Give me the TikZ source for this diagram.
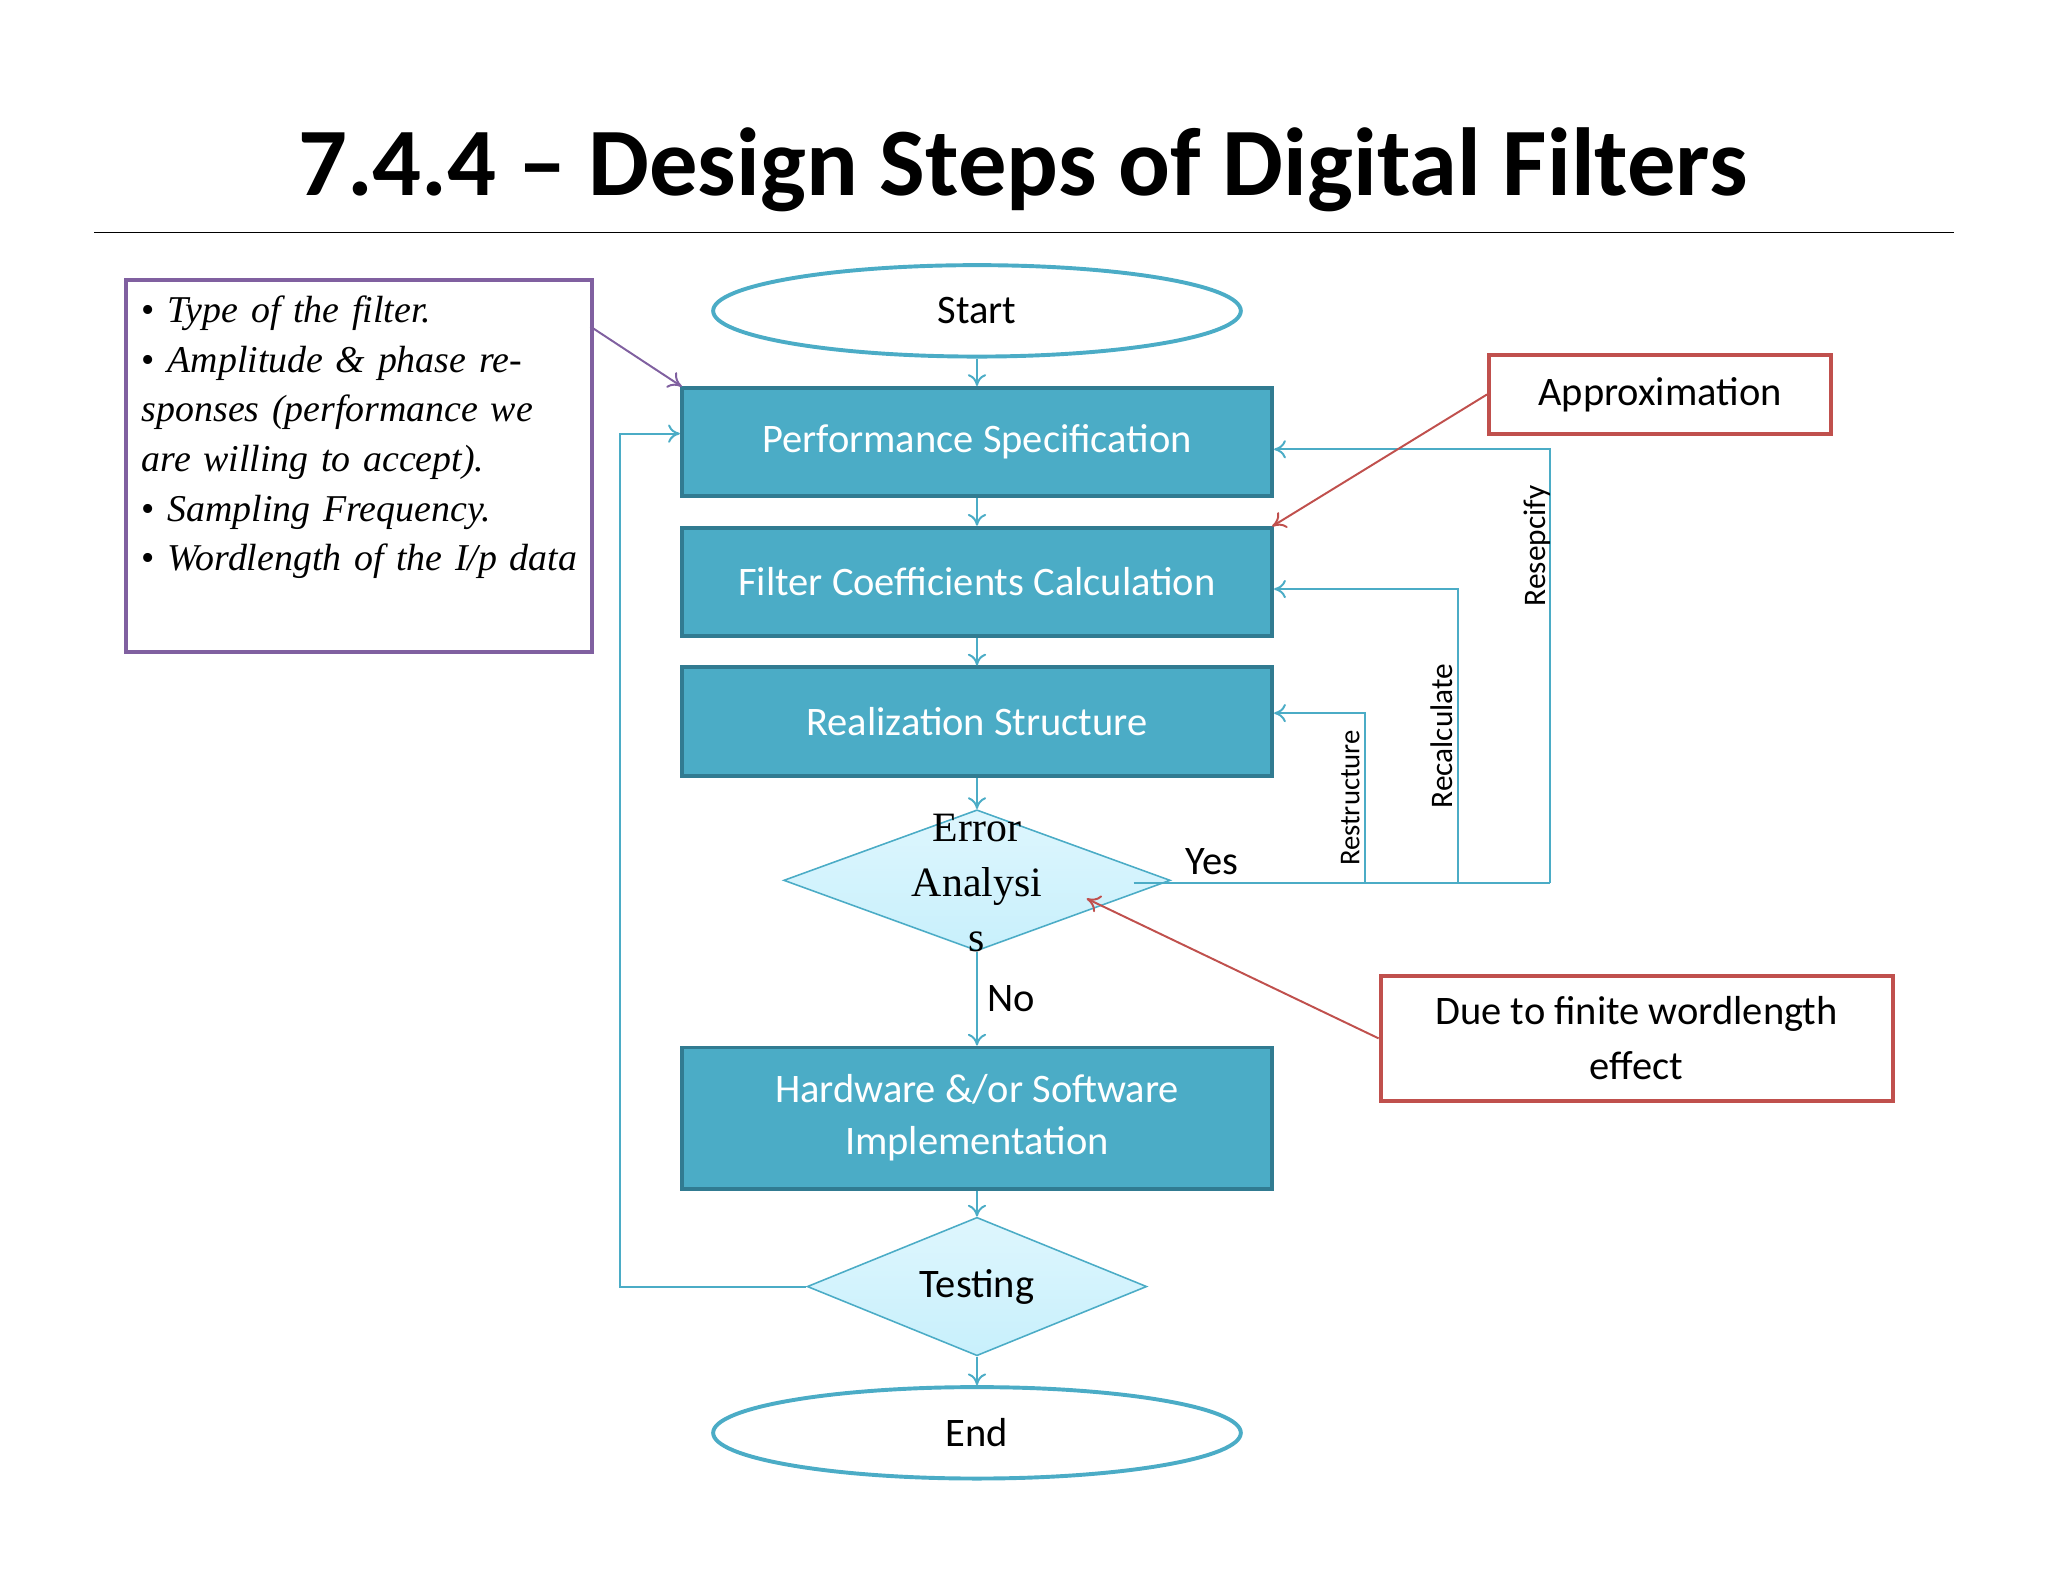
\documentclass[tikz,border=0pt]{standalone}
\usepackage{fontspec}
\setmainfont{Carlito}
\newfontfamily\serifit{Liberation Serif}
\usetikzlibrary{arrows.meta,shapes.geometric}
\definecolor{teal1}{RGB}{75,172,198}
\definecolor{tealdark}{RGB}{49,123,145}
\definecolor{redb}{RGB}{192,80,77}
\definecolor{purp}{RGB}{128,96,160}
\definecolor{cyanlt}{RGB}{200,240,252}
\begin{document}
\begin{tikzpicture}[x=1pt,y=-1pt,
  stepbox/.style={draw=tealdark,line width=3pt,fill=teal1,text=white,minimum width=452pt,font=\fontsize{31}{40}\selectfont,align=center},
  oval/.style={ellipse,draw=teal1,line width=3pt,fill=white,minimum width=404pt,minimum height=70pt,font=\fontsize{31}{38}\selectfont},
  dia/.style={diamond,draw=teal1,line width=1.2pt,top color=cyanlt!60!white,bottom color=cyanlt,aspect=2.74},
  flow/.style={draw=teal1,line width=1.5pt,-{To[length=9pt,width=14pt]}},
  note/.style={draw=redb,line width=3pt,fill=white,font=\fontsize{31}{42}\selectfont,align=center},
  redarr/.style={draw=redb,line width=1.5pt,-{To[length=10pt,width=14pt]}}]
\useasboundingbox (0,0) rectangle (1568,1212);
\node[font=\bfseries\fontsize{74}{80}\selectfont] (title) at (783,130) {7.4.4 – Design Steps of Digital Filters};
\draw[line width=1.5pt] (72,178) -- (1496,178);
% left box
\node[draw=purp,line width=3pt,minimum width=357pt,minimum height=285pt,anchor=north west,inner sep=0pt] (spec) at (95,213) {};
\node[anchor=north west,text width=335pt,font=\serifit\itshape\fontsize{29}{38}\selectfont,align=left] (spectext) at (105,223)
 {\textup{•} Type of the filter.\\ \textup{•} Amplitude \& phase responses (performance we are willing to accept).\\ \textup{•} Sampling Frequency.\\ \textup{•} Wordlength of the I/p data};
% flow
\node[oval] (start) at (748,238) {Start};
\node[stepbox,minimum height=83pt] (ps) at (748,338.5) {Performance Specification};
\node[stepbox,minimum height=83pt] (fc) at (748,445.5) {Filter Coefficients Calculation};
\node[stepbox,minimum height=83pt] (rs) at (748,552.5) {Realization Structure};
\node[dia,minimum width=296pt,minimum height=108pt] (ea) at (748,674) {};
\node[font=\serifit\fontsize{32}{42}\selectfont,align=center] (eat) at (748,676) {Error\\Analysi\\s};
\node[stepbox,minimum height=108pt] (hw) at (748,856) {Hardware \&/or Software\\Implementation};
\node[dia,minimum width=260pt,minimum height=106pt,font=\fontsize{31}{38}\selectfont] (te) at (748,985) {Testing};
\node[oval] (end) at (748,1097) {End};
\draw[flow] (start) -- (ps);
\draw[flow] (ps) -- (fc);
\draw[flow] (fc) -- (rs);
\draw[flow] (rs) -- (ea.north);
\draw[flow] (ea.south) -- node[right,font=\fontsize{31}{38}\selectfont,xshift=4pt] {No} (hw);
\draw[flow] (hw) -- (te.north);
\draw[flow] (te.south) -- (end);
% feedback
\coordinate (y0) at (868,676);
\coordinate (c1) at (1045,676);
\coordinate (c2) at (1116,676);
\coordinate (c3) at (1187,676);
\draw[draw=teal1,line width=1.5pt] (y0) -- (c3);
\node[font=\fontsize{31}{38}\selectfont] (yes) at (928,660) {Yes};
\draw[flow] (c1) -- node[left,rotate=90,anchor=south,font=\fontsize{22}{26}\selectfont,yshift=0pt] {Restructure} (1045,546) -- (rs.east |- 0,546);
\draw[flow] (c2) -- node[rotate=90,anchor=south,font=\fontsize{24}{28}\selectfont] {Recalculate} (1116,451) -- (fc.east |- 0,451);
\draw[flow] (c3) -- (1187,344) -- (ps.east |- 0,344);
\node[rotate=90,font=\fontsize{24}{28}\selectfont] (resp) at (1177,418) {Resepcify};
\draw[flow] (te.west) -- (475,985) -- (475,332) -- (ps.west |- 0,332);
% notes
\node[note,minimum width=262pt,minimum height=60pt] (approx) at (1271,302) {Approximation};
\node[note,minimum width=392pt,minimum height=96pt] (due) at (1253,795) {Due to finite wordlength\\effect};
\draw[redarr] (approx.west) -- (974,403);
\draw[redarr] (due.west) -- (832,688);
\draw[draw=purp,line width=1.5pt,-{To[length=10pt,width=14pt]}] (452,250) -- (522,296);
\end{tikzpicture}
\end{document}
